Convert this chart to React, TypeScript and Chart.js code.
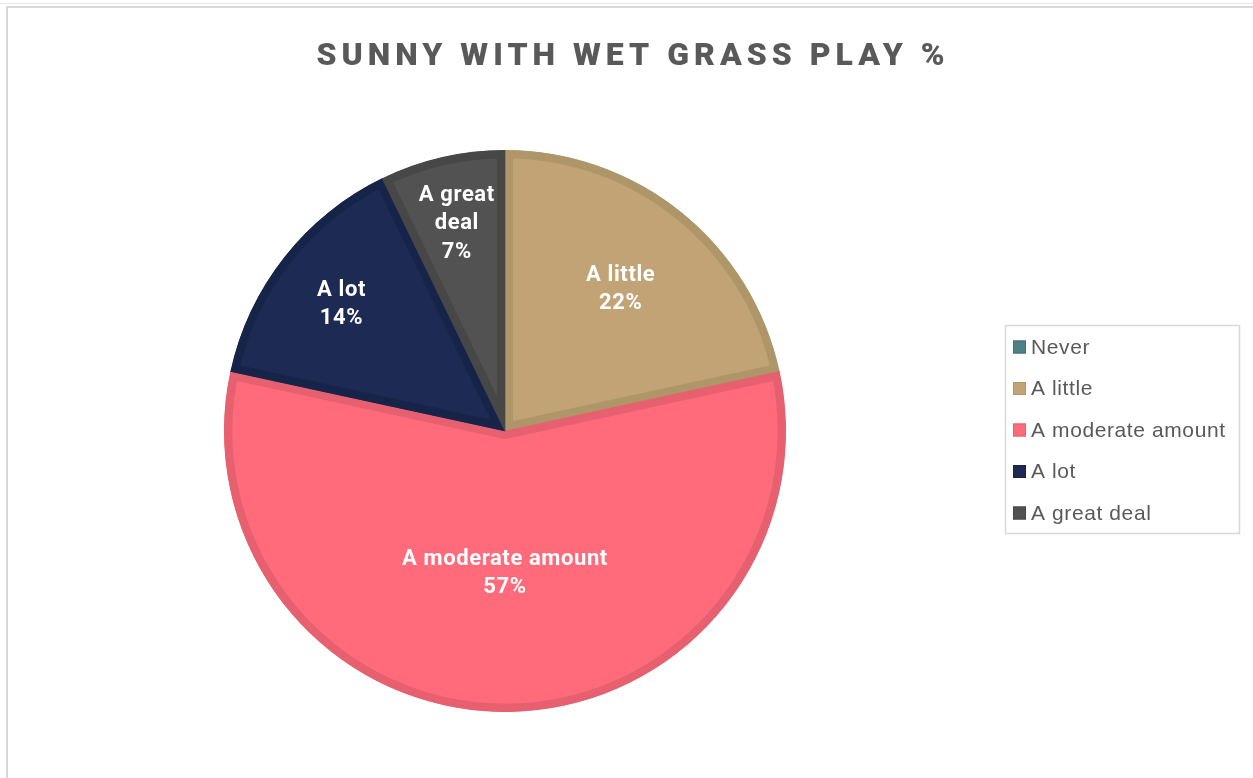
import React, { useEffect, useRef } from "react";
import { Chart, registerables } from "chart.js";

Chart.register(...registerables);

const TITLE = "SUNNY WITH WET GRASS PLAY %";
const CATEGORIES = ["Never", "A little", "A moderate amount", "A lot", "A great deal"];
const VALUES = [0, 21.6, 56.8, 14.4, 7.2];
const FILL_COLORS = ["#4E8087", "#C1A376", "#FF6B7B", "#1C2A54", "#525252"];
const BORDER_COLORS = ["#447177", "#AE9669", "#E6606F", "#17244A", "#474747"];

// style constants
const LABEL_RADIUS = [0.6, 0.656, 0.5, 0.74, 0.765];
const W = 1253;
const H = 778;

const framePlugin = {
  id: "frame",
  beforeDraw(chart: any) {
    const ctx = chart.ctx;
    ctx.save();
    ctx.fillStyle = "#ffffff";
    ctx.fillRect(0, 0, chart.width, chart.height);
    ctx.fillStyle = "#e6e6e6";
    ctx.fillRect(0, 3, chart.width, 1);
    ctx.fillStyle = "#d9d9d9";
    ctx.fillRect(7, 6, chart.width - 7, 2);
    ctx.fillRect(6, 6, 2, chart.height - 6);
    ctx.restore();
  },
};

const titlePlugin = {
  id: "customTitle",
  afterDraw(chart: any) {
    const ctx = chart.ctx;
    ctx.save();
    ctx.font = "900 32px Roboto";
    (ctx as any).letterSpacing = "5px";
    ctx.fillStyle = "#595959";
    ctx.textAlign = "center";
    ctx.textBaseline = "alphabetic";
    ctx.fillText(TITLE, 633, 65);
    ctx.restore();
  },
};

function wrapText(ctx: CanvasRenderingContext2D, text: string, maxWidth: number): string[] {
  const words = text.split(" ");
  const lines: string[] = [];
  let cur = "";
  for (const w of words) {
    const test = cur ? cur + " " + w : w;
    if (cur && ctx.measureText(test).width > maxWidth) {
      lines.push(cur);
      cur = w;
    } else {
      cur = test;
    }
  }
  if (cur) lines.push(cur);
  return lines;
}

const dataLabelPlugin = {
  id: "dataLabels",
  afterDatasetsDraw(chart: any) {
    const ctx = chart.ctx;
    const meta = chart.getDatasetMeta(0);
    const data = chart.data.datasets[0].data as number[];
    const total = data.reduce((a, b) => a + b, 0);
    ctx.save();
    ctx.font = "bold 22px Roboto";
    (ctx as any).letterSpacing = "0.6px";
    ctx.fillStyle = "#ffffff";
    ctx.textAlign = "center";
    ctx.textBaseline = "middle";
    meta.data.forEach((arc: any, i: number) => {
      const v = data[i];
      if (!v) return;
      const p = arc.getProps(["x", "y", "startAngle", "endAngle", "outerRadius"], true);
      const mid = (p.startAngle + p.endAngle) / 2;
      const span = p.endAngle - p.startAngle;
      const r = p.outerRadius * LABEL_RADIUS[i];
      const cx = p.x + Math.cos(mid) * r;
      const cy = p.y + Math.sin(mid) * r;
      const pct = Math.round((v / total) * 100) + "%";
      const lines = wrapText(ctx, chart.data.labels[i], span < 0.5 ? 82 : 1000);
      lines.push(pct);
      const lh = 28.5;
      const top = cy + 2 - ((lines.length - 1) * lh) / 2;
      lines.forEach((ln, k) => ctx.fillText(ln, cx, top + k * lh));
    });
    ctx.restore();
  },
};

const legendPlugin = {
  id: "customLegend",
  afterDraw(chart: any) {
    const ctx = chart.ctx;
    const ds = chart.data.datasets[0];
    const labels = chart.data.labels as string[];
    ctx.save();
    ctx.strokeStyle = "#d9d9d9";
    ctx.lineWidth = 1.5;
    ctx.strokeRect(1005.5, 325.5, 234, 208);
    ctx.font = "21px 'Liberation Sans'";
    (ctx as any).letterSpacing = "0.6px";
    ctx.textBaseline = "middle";
    ctx.textAlign = "left";
    const startY = 347;
    const step = 41.5;
    labels.forEach((lab, i) => {
      const y = startY + i * step;
      ctx.fillStyle = ds.backgroundColor[i];
      ctx.fillRect(1013, y - 6.5, 13, 13);
      ctx.strokeStyle = ds.borderColor[i];
      ctx.lineWidth = 1;
      ctx.strokeRect(1013.5, y - 6, 12, 12);
      ctx.fillStyle = "#595959";
      ctx.fillText(lab, 1031, y + 1);
    });
    ctx.restore();
  },
};

export default function App() {
  const ref = useRef<HTMLCanvasElement | null>(null);
  useEffect(() => {
    if (!ref.current) return;
    const chart = new Chart(ref.current, {
      type: "pie",
      data: {
        labels: CATEGORIES,
        datasets: [
          {
            data: VALUES,
            backgroundColor: FILL_COLORS,
            borderColor: BORDER_COLORS,
            borderWidth: 8,
            borderAlign: "inner",
            hoverOffset: 0,
            offset: 0,
            hoverBorderWidth: 8,
          } as any,
        ],
      },
      options: {
        responsive: false,
        animation: false,
        devicePixelRatio: 1,
        layout: { padding: { top: 150, bottom: 66, left: 224, right: 467 } },
        plugins: {
          legend: { display: false },
          title: { display: false },
          tooltip: { enabled: false },
        },
        events: [],
      },
      plugins: [framePlugin, titlePlugin, dataLabelPlugin, legendPlugin],
    });
    return () => chart.destroy();
  }, []);
  return (
    <div style={{ position: "fixed", left: 0, top: 0, width: W, height: H, background: "#fff" }}>
      <canvas ref={ref} width={W} height={H} style={{ width: W, height: H, display: "block" }} />
    </div>
  );
}
